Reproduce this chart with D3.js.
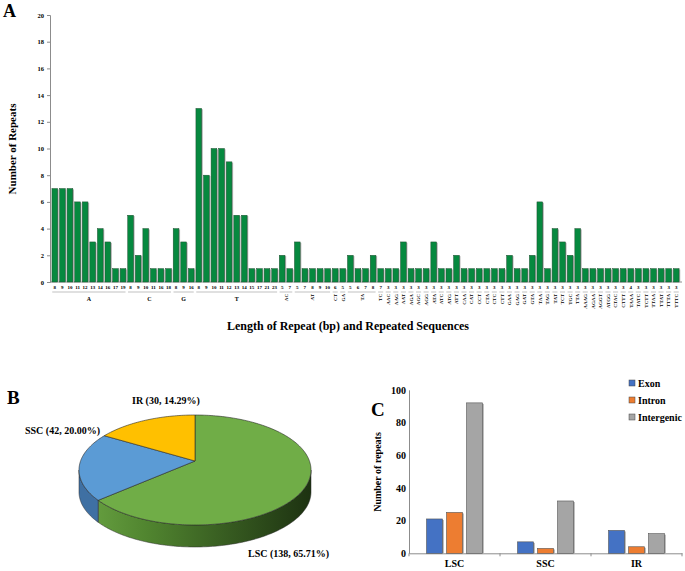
<!DOCTYPE html>
<html><head><meta charset="utf-8">
<script src="https://cdn.jsdelivr.net/npm/d3@7"></script>
<style>
body{margin:0;background:#fff}
svg{display:block;font-family:"Liberation Serif","Times New Roman",serif;font-weight:bold}
</style>
</head><body>
<svg id="c" width="685" height="571"></svg>
<script>
// ---------- Panel A data ----------
const motifs = [
 "A","A","A","A","A","A","A","A","A","A",
 "C","C","C","C","C","C",
 "G","G","G",
 "T","T","T","T","T","T","T","T","T","T","T",
 "AC","AC","AT","AT","AT","AT","AT","CT","GA","TA","TA","TA","TA","TC",
 "AAC","AAG","AAT","AGA","AGC","AGG","ATA","ATC","ATG","ATT","CAA","CAT","CCT",
 "CTA","CTC","CTT","GAA","GAG","GAT","GTA","TAA","TAG","TAT","TCT","TGC","TTA",
 "AAAG","AGAA","AGGT","ATGG","CTAC","CTTT","TAAA","TATC","TCTT","TTAA","TTAT","TTTA","TTTC"
];
const sizes = [
 8,9,10,11,12,13,14,16,17,19,
 8,9,10,11,16,18,
 8,9,16,
 8,9,10,11,12,13,14,15,17,21,23,
 5,7,5,7,8,9,10,6,5,5,6,7,8,7,
 3,3,3,3,3,3,3,3,3,3,3,3,3,3,3,3,3,3,3,3,3,3,3,3,3,3,
 3,3,3,3,3,3,4,3,3,3,3,3,3
];
const counts = [
 7,7,7,6,6,3,4,3,1,1,
 5,2,4,1,1,1,
 4,3,1,
 13,8,10,10,9,5,5,1,1,1,1,
 2,1,3,1,1,1,1,1,1,2,1,1,2,1,
 1,1,3,1,1,1,3,1,1,2,1,1,1,1,1,1,2,1,1,2,6,1,4,3,2,4,
 1,1,1,1,1,1,1,1,1,1,1,1,1
];
const yTicksA = [0,2,4,6,8,10,12,14,16,18,20];

// ---------- Panel B data ----------
const pieNames = ["LSC","SSC","IR"];
const pieValues = [138,42,30];
const piePct = ["65.71%","20.00%","14.29%"];

// ---------- Panel C data ----------
const regions = ["LSC","SSC","IR"];
const types = ["Exon","Intron","Intergenic"];
const exonVals = [21,7,14];
const intronVals = [25,3,4];
const intergenicVals = [92,32,12];
const yTicksC = [0,20,40,60,80,100];

const svg = d3.select("#c");
const axisGray = "#8c8c8c";

// ===================== PANEL A =====================
const gA = svg.append("g");
const idx = d3.range(motifs.length);
const xA = d3.scaleBand().domain(idx).range([51,680]).paddingInner(0.25).paddingOuter(0.125);
const yA = d3.scaleLinear().domain([0,20]).range([282,15]);
const bw = xA.bandwidth();

gA.append("text").attr("x",3).attr("y",17).attr("font-size",18).text("A");

const axA = gA.append("g").attr("transform","translate(50,0)")
  .call(d3.axisLeft(yA).tickValues(yTicksA).tickSize(3).tickPadding(3));
axA.select(".domain").attr("stroke",axisGray);
axA.selectAll(".tick line").attr("stroke",axisGray);
axA.selectAll(".tick text").attr("font-size",6.5).attr("font-family","Liberation Serif").attr("font-weight","bold").attr("fill","#000");

gA.append("line").attr("x1",50).attr("x2",682).attr("y1",yA(0)).attr("y2",yA(0)).attr("stroke",axisGray);

// shadows
gA.selectAll("rect.sh").data(idx).join("rect")
  .attr("x",i=>xA(i)+1.2).attr("y",i=>yA(counts[i])+0.8)
  .attr("width",bw).attr("height",i=>yA(0)-yA(counts[i])-0.8)
  .attr("fill","#b5b5b5");
gA.selectAll("rect.bar").data(idx).join("rect")
  .attr("x",i=>xA(i)).attr("y",i=>yA(counts[i]))
  .attr("width",bw).attr("height",i=>yA(0)-yA(counts[i]))
  .attr("fill","#06893f").attr("stroke","#1f4f30").attr("stroke-width",0.5);

// size labels
gA.selectAll("text.sz").data(idx).join("text")
  .attr("x",i=>xA(i)+bw/2).attr("y",289)
  .attr("text-anchor","middle").attr("font-size",5).text(i=>sizes[i]);

// groups of consecutive motifs
const groups = [];
idx.forEach(i=>{
  if(!groups.length || groups[groups.length-1].name!==motifs[i]) groups.push({name:motifs[i],first:i,last:i});
  else groups[groups.length-1].last=i;
});
groups.forEach(g=>{
  const x0 = xA(g.first)+0.3, x1 = xA(g.last)+bw-0.3;
  gA.append("line").attr("x1",x0).attr("x2",x1).attr("y1",292).attr("y2",292)
    .attr("stroke","#999").attr("stroke-width",0.6);
  const cx = (x0+x1)/2;
  if(g.name.length===1){
    gA.append("text").attr("x",cx).attr("y",300.5).attr("text-anchor","middle")
      .attr("font-size",6).text(g.name);
  } else {
    gA.append("text").attr("transform",`translate(${cx+1.8},294) rotate(-90)`)
      .attr("text-anchor","end").attr("font-size",5).text(g.name);
  }
});

gA.append("text").attr("transform","translate(16,149) rotate(-90)")
  .attr("text-anchor","middle").attr("font-size",11).text("Number of Repeats");
gA.append("text").attr("x",348).attr("y",330).attr("text-anchor","middle")
  .attr("font-size",12).text("Length of Repeat (bp) and Repeated Sequences");

// ===================== PANEL B =====================
const gB = svg.append("g");
gB.append("text").attr("x",7).attr("y",404).attr("font-size",19).text("B");

const pcx=195, pcy=470, prx=116, pry=55, depth=22;
const apex=[195,461];
const pie = d3.pie().sort(null).startAngle(0).endAngle(2*Math.PI)(pieValues);
const topCols = ["#70ad47","#5b9bd5","#ffc000"];
const ePt = (a,cy)=>[pcx+prx*Math.sin(a), cy-pry*Math.cos(a)];
const arcPts = (a0,a1,cy)=>{
  const n = Math.max(2,Math.ceil(Math.abs(a1-a0)/0.02));
  return d3.range(n+1).map(k=>ePt(a0+(a1-a0)*k/n,cy));
};
const line = d3.line();
const defs = svg.append("defs");
const grad = defs.append("linearGradient").attr("id","lscSide").attr("gradientUnits","userSpaceOnUse")
  .attr("x1",pcx-prx).attr("x2",pcx+prx).attr("y1",0).attr("y2",0);
[[0,"#6aa443"],[0.3,"#50842f"],[0.65,"#365a20"],[1,"#1d3211"]].forEach(s=>grad.append("stop").attr("offset",s[0]).attr("stop-color",s[1]));
const sideCols = ["url(#lscSide)","#3f70a3","#c08f00"];

// sides (visible between PI/2 and 3PI/2)
pie.forEach((d,i)=>{
  const s0 = Math.max(d.startAngle,Math.PI/2), s1 = Math.min(d.endAngle,3*Math.PI/2);
  if(s1<=s0) return;
  const pts = arcPts(s0,s1,pcy).concat(arcPts(s1,s0,pcy+depth));
  gB.append("path").attr("d",line(pts)+"Z").attr("fill",sideCols[i])
    .attr("stroke","#2a2a2a").attr("stroke-width",0.5);
});
// tops
pie.forEach((d,i)=>{
  const pts = [apex].concat(arcPts(d.startAngle,d.endAngle,pcy));
  gB.append("path").attr("d",line(pts)+"Z").attr("fill",topCols[i])
    .attr("stroke","#2a2a2a").attr("stroke-width",0.6).attr("stroke-linejoin","round");
});
const pieLabelPos = [[248,557,"start"],[25,434,"start"],[132,404,"start"]];
pie.forEach((d,i)=>{
  gB.append("text").attr("x",pieLabelPos[i][0]).attr("y",pieLabelPos[i][1])
    .attr("text-anchor",pieLabelPos[i][2]).attr("font-size",10)
    .text(`${pieNames[i]} (${pieValues[i]}, ${piePct[i]})`);
});

// ===================== PANEL C =====================
const gC = svg.append("g");
gC.append("text").attr("x",371).attr("y",416).attr("font-size",19).text("C");

const xC = d3.scaleBand().domain(regions).range([409,682]);
const xIn = d3.scaleBand().domain(types).range([0,56]).paddingInner(0.2);
const yC = d3.scaleLinear().domain([0,100]).range([553.3,389.8]);
const colsC = ["#4472c4","#ed7d31","#a5a5a5"];
const valsC = [exonVals,intronVals,intergenicVals];

const axC = gC.append("g").attr("transform","translate(409,0)")
  .call(d3.axisLeft(yC).tickValues(yTicksC).tickSize(0).tickPadding(3));
axC.select(".domain").attr("stroke",axisGray);
axC.selectAll(".tick text").attr("font-size",10).attr("font-family","Liberation Serif").attr("font-weight","bold").attr("fill","#000");

const axCx = gC.append("g").attr("transform",`translate(0,${yC(0)})`)
  .call(d3.axisBottom(xC).tickSize(0).tickPadding(7));
axCx.select(".domain").attr("stroke",axisGray);
axCx.selectAll(".tick text").attr("font-size",10).attr("font-family","Liberation Serif").attr("font-weight","bold").attr("fill","#000");
[409,...regions.map(r=>xC(r)+xC.bandwidth())].forEach(x=>{
  gC.append("line").attr("x1",x).attr("x2",x).attr("y1",yC(0)).attr("y2",yC(0)+3).attr("stroke",axisGray);
});

const bx0 = (xC.bandwidth()-56)/2;
regions.forEach((r,ri)=>{
  types.forEach((t,ti)=>{
    const v = valsC[ti][ri];
    const x = xC(r)+bx0+xIn(t);
    gC.append("rect").attr("x",x+1.3).attr("y",yC(v)+1).attr("width",xIn.bandwidth())
      .attr("height",yC(0)-yC(v)-1).attr("fill","#b0b0b0");
    gC.append("rect").attr("x",x).attr("y",yC(v)).attr("width",xIn.bandwidth())
      .attr("height",yC(0)-yC(v)).attr("fill",colsC[ti]).attr("stroke","#555").attr("stroke-width",0.6);
  });
});

gC.append("text").attr("transform","translate(381,472) rotate(-90)")
  .attr("text-anchor","middle").attr("font-size",10).text("Number of repeats");

types.forEach((t,ti)=>{
  const cy = 383 + ti*17;
  gC.append("rect").attr("x",629).attr("y",cy-3).attr("width",6).attr("height",6)
    .attr("fill",colsC[ti]).attr("stroke","#444").attr("stroke-width",0.5);
  gC.append("text").attr("x",638).attr("y",cy+3.5).attr("font-size",10).text(t);
});
</script>
</body></html>
